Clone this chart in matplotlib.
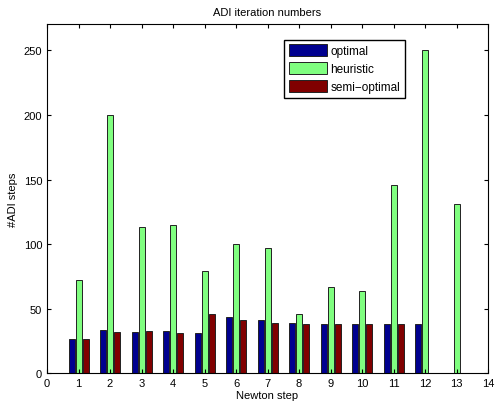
import matplotlib
matplotlib.use("Agg")
import matplotlib.pyplot as plt
import numpy as np

plt.rcParams["font.family"] = ["Liberation Sans", "DejaVu Sans"]

steps = np.arange(1, 14)
optimal = [27, 34, 32, 33, 31, 44, 41, 39, 38, 38, 38, 38, np.nan]
heuristic = [72, 200, 113, 115, 79, 100, 97, 46, 67, 64, 146, 250, 131]
semi_optimal = [27, 32, 33, 31, 46, 41, 39, 38, 38, 38, 38, np.nan, np.nan]

series = [
    ("optimal", optimal, "#00008F"),
    ("heuristic", heuristic, "#80FF80"),
    ("semi\u2212optimal", semi_optimal, "#800000"),
]

fig = plt.figure(figsize=(4.97, 4.06), dpi=100)
ax = fig.add_axes([0.0946, 0.0776, 0.8874, 0.8596])

offset = 0.222
width = 0.19
for i, (label, vals, color) in enumerate(series):
    ax.bar(steps + (i - 1) * offset, vals, width=width, color=color,
           edgecolor="#222222", linewidth=0.7, label=label)

ax.set_xlim(0, 14)
ax.set_ylim(0, 270)
ax.set_xticks(np.arange(0, 15))
ax.set_yticks(np.arange(0, 251, 50))
ax.tick_params(direction="in", top=True, right=True, labelsize=8, length=3)
ax.set_xlabel("Newton step", fontsize=8, labelpad=1)
ax.set_ylabel("#ADI steps", fontsize=8)
ax.set_title("ADI iteration numbers", fontsize=8, pad=7)
ax.legend(loc="upper left", bbox_to_anchor=(0.538, 0.9565), fontsize=8.5,
          fancybox=False, edgecolor="black", framealpha=1,
          handlelength=3.2, handleheight=1.1, borderpad=0.4,
          labelspacing=0.45, handletextpad=0.3, borderaxespad=0)

fig.savefig("out.png", dpi=100)
